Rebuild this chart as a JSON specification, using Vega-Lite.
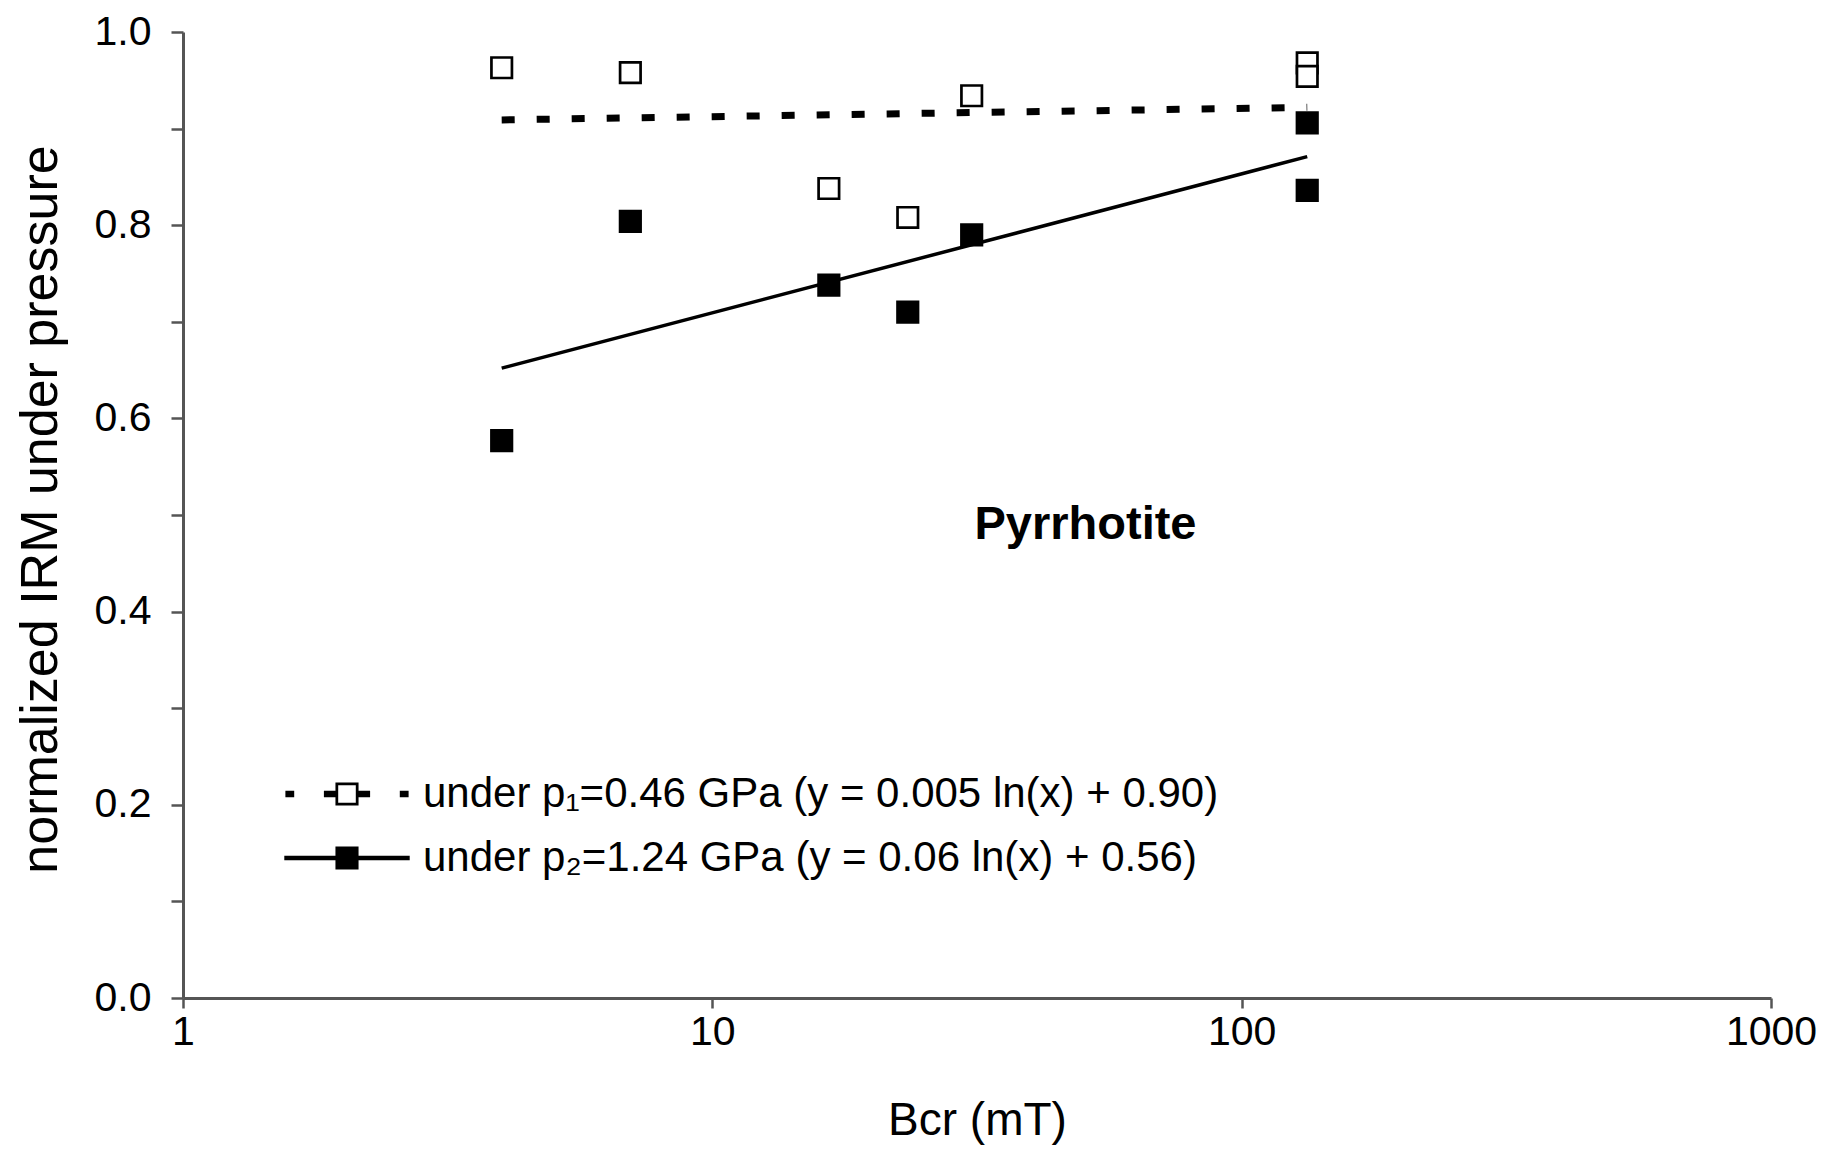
{
  "$schema": "https://vega.github.io/schema/vega-lite/v6.json",
  "width": 1588,
  "height": 966,
  "autosize": "none",
  "padding": {"left": 183, "top": 32, "right": 58, "bottom": 159},
  "background": "white",
  "config": {"view": {"stroke": null}, "font": "Liberation Sans"},
  "datasets": {
    "points": [
      {"Bcr": 4.0, "irm": 0.963, "series": "p1"},
      {"Bcr": 7.0, "irm": 0.958, "series": "p1"},
      {"Bcr": 16.6, "irm": 0.838, "series": "p1"},
      {"Bcr": 23.4, "irm": 0.808, "series": "p1"},
      {"Bcr": 30.9, "irm": 0.934, "series": "p1"},
      {"Bcr": 133, "irm": 0.968, "series": "p1"},
      {"Bcr": 133, "irm": 0.954, "series": "p1"},
      {"Bcr": 4.0, "irm": 0.577, "series": "p2"},
      {"Bcr": 7.0, "irm": 0.804, "series": "p2"},
      {"Bcr": 16.6, "irm": 0.738, "series": "p2"},
      {"Bcr": 23.4, "irm": 0.710, "series": "p2"},
      {"Bcr": 30.9, "irm": 0.790, "series": "p2"},
      {"Bcr": 133, "irm": 0.906, "series": "p2"},
      {"Bcr": 133, "irm": 0.836, "series": "p2"}
    ],
    "trend": [
      {"Bcr": 4.0, "irm": 0.909, "series": "p1"},
      {"Bcr": 133, "irm": 0.922, "series": "p1"},
      {"Bcr": 4.0, "irm": 0.652, "series": "p2"},
      {"Bcr": 133, "irm": 0.871, "series": "p2"}
    ],
    "labels": [
      {"label": "Pyrrhotite"}
    ]
  },
  "layer": [
    {
      "data": {"name": "trend"},
      "transform": [{"filter": "datum.series == 'p1'"}],
      "mark": {"type": "line", "color": "black", "strokeWidth": 7, "strokeDash": [13, 22], "strokeCap": "butt"},
      "encoding": {
        "x": {"field": "Bcr", "type": "quantitative", "scale": {"type": "log", "domain": [1, 1000]},
          "axis": {"values": [1, 10, 100, 1000], "format": "d", "grid": false, "labelFlush": false, "tickSize": 10, "tickWidth": 2.5, "tickColor": "#555", "domainColor": "#555", "domainWidth": 3,
            "labelFontSize": 41, "labelColor": "black", "labelPadding": 4, "labelFont": "Liberation Sans",
            "title": "Bcr (mT)", "titleFontSize": 46, "titleFontWeight": "normal", "titleColor": "black", "titleFont": "Liberation Sans", "titleY": 136, "titleBaseline": "alphabetic"}},
        "y": {"field": "irm", "type": "quantitative", "scale": {"domain": [0, 1]},
          "axis": {"values": [0, 0.1, 0.2, 0.3, 0.4, 0.5, 0.6, 0.7, 0.8, 0.9, 1.0], "labelExpr": "round(datum.value*10)%2==0 ? format(datum.value,'.1f') : ''", "grid": false, "labelFlush": false, "tickSize": 12, "tickWidth": 2.5, "tickColor": "#555", "domainColor": "#555", "domainWidth": 3,
            "labelFontSize": 41, "labelColor": "black", "labelPadding": 20, "labelFont": "Liberation Sans",
            "title": "normalized IRM under pressure", "titleFontSize": 52, "titleFontWeight": "normal", "titleColor": "black", "titleFont": "Liberation Sans", "titleX": -127, "titleY": 477, "titleBaseline": "alphabetic"}}
      }
    },
    {
      "data": {"name": "trend"},
      "transform": [{"filter": "datum.series == 'p2'"}],
      "mark": {"type": "line", "color": "black", "strokeWidth": 3.5},
      "encoding": {
        "x": {"field": "Bcr", "type": "quantitative"},
        "y": {"field": "irm", "type": "quantitative"}
      }
    },
    {
      "data": {"name": "trend"},
      "mark": {"type": "point", "filled": true, "color": "black", "opacity": 0, "size": 484},
      "encoding": {
        "x": {"field": "Bcr", "type": "quantitative"},
        "y": {"field": "irm", "type": "quantitative"},
        "shape": {"field": "series", "type": "nominal",
          "scale": {"domain": ["p1", "p2"], "range": [
            "M-5.6,-0.3H-4.8V0.3H-5.6Z M-2.1,-0.3H-1.05V0.3H-2.1Z M1.05,-0.3H2.1V0.3H1.05Z M4.8,-0.3H5.6V0.3H4.8Z M-1.05,-1.05H1.05V-0.8H-1.05Z M-1.05,0.8H1.05V1.05H-1.05Z M-1.05,-1.05H-0.8V1.05H-1.05Z M0.8,-1.05H1.05V1.05H0.8Z",
            "M-5.7,-0.2H5.7V0.2H-5.7Z M-1.05,-1.05H1.05V1.05H-1.05Z"
          ]},
          "legend": {"title": null, "orient": "none", "legendX": 143, "legendY": 741, "symbolSize": 484, "symbolOpacity": 1, "symbolFillColor": "black", "symbolStrokeWidth": 0, "labelOffset": 55, "rowPadding": 22,
            "labelFontSize": 42, "labelColor": "black", "labelFont": "Liberation Sans", "labelLimit": 0,
            "labelExpr": "datum.value == 'p1' ? 'under p\u2081=0.46 GPa (y = 0.005 ln(x) + 0.90)' : 'under p\u2082=1.24 GPa (y = 0.06 ln(x) + 0.56)'"}
        }
      }
    },
    {
      "data": {"name": "points"},
      "transform": [{"filter": "datum.series == 'p1'"}],
      "mark": {"type": "point", "shape": "square", "filled": true, "size": 420, "fill": "white", "stroke": "black", "strokeWidth": 2.7, "opacity": 1},
      "encoding": {
        "x": {"field": "Bcr", "type": "quantitative"},
        "y": {"field": "irm", "type": "quantitative"}
      }
    },
    {
      "data": {"name": "points"},
      "transform": [{"filter": "datum.series == 'p2'"}],
      "mark": {"type": "point", "shape": "square", "filled": true, "size": 420, "fill": "black", "stroke": "black", "strokeWidth": 2.7, "opacity": 1},
      "encoding": {
        "x": {"field": "Bcr", "type": "quantitative"},
        "y": {"field": "irm", "type": "quantitative"}
      }
    },
    {
      "data": {"name": "labels"},
      "mark": {"type": "text", "font": "Liberation Sans", "fontSize": 47, "fontWeight": "bold", "color": "black", "align": "center", "baseline": "middle"},
      "encoding": {
        "text": {"field": "label", "type": "nominal"},
        "x": {"datum": 50.7, "type": "quantitative"},
        "y": {"datum": 0.49, "type": "quantitative"}
      }
    }
  ]
}
